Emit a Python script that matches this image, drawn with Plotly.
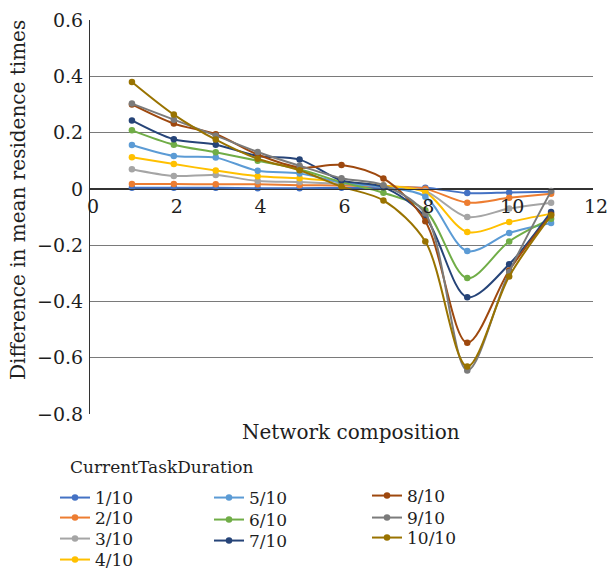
import plotly.graph_objects as go

# Network composition index
composition = [1, 2, 3, 4, 5, 6, 7, 8, 9, 10, 11]

series_names = ["1/10", "2/10", "3/10", "4/10", "5/10",
                "6/10", "7/10", "8/10", "9/10", "10/10"]

d_1 = [0.004, 0.004, 0.004, 0.002, 0.002, 0.004, 0.004, 0.004, -0.015, -0.013, -0.010]
d_2 = [0.017, 0.017, 0.016, 0.016, 0.013, 0.012, 0.008, 0.000, -0.049, -0.032, -0.017]
d_3 = [0.070, 0.046, 0.049, 0.028, 0.024, 0.018, 0.010, -0.008, -0.100, -0.070, -0.049]
d_4 = [0.112, 0.088, 0.065, 0.045, 0.038, 0.025, 0.012, -0.012, -0.153, -0.118, -0.088]
d_5 = [0.156, 0.117, 0.111, 0.064, 0.055, 0.022, 0.006, -0.028, -0.221, -0.157, -0.121]
d_6 = [0.208, 0.157, 0.130, 0.100, 0.070, 0.024, -0.014, -0.076, -0.317, -0.187, -0.106]
d_7 = [0.243, 0.176, 0.157, 0.117, 0.104, 0.030, 0.006, -0.100, -0.385, -0.268, -0.082]
d_8 = [0.300, 0.232, 0.194, 0.122, 0.076, 0.085, 0.037, -0.115, -0.547, -0.290, -0.092]
d_9 = [0.303, 0.246, 0.189, 0.131, 0.082, 0.038, 0.013, -0.088, -0.645, -0.295, -0.008]
d_10 = [0.380, 0.264, 0.175, 0.107, 0.066, 0.008, -0.041, -0.187, -0.631, -0.311, -0.095]

values = [d_1, d_2, d_3, d_4, d_5, d_6, d_7, d_8, d_9, d_10]

colors = ["#4472C4", "#ED7D31", "#A5A5A5", "#FFC000", "#5B9BD5",
          "#70AD47", "#264478", "#9E480E", "#7B7B7B", "#997300"]

FONT = "DejaVu Serif"
TEXT = "#1e1e1e"
W, H = 613, 570
ML, MR, MT, MB = 90, 20, 20, 156
PW, PH = W - ML - MR, H - MT - MB

# legend entry anchor (left, vertical centre) in pixels, one per series
legend_left = [55, 55, 55, 55, 209, 209, 209, 367, 367, 367]
legend_mid = [498, 518, 539, 560, 498, 520, 541, 496, 518, 538]


def px_x(px):
    return (px - ML) / PW


def px_y(py):
    return (H - MB - py) / PH


fig = go.Figure()
legend_layout = {}
for i, (name, ys, col) in enumerate(zip(series_names, values, colors)):
    lg = "legend" if i == 0 else f"legend{i + 1}"
    fig.add_trace(go.Scatter(
        x=composition, y=ys, name=name, mode="lines+markers",
        line=dict(color=col, width=2, shape="spline", smoothing=0.9),
        marker=dict(color=col, size=6.5),
        legend=lg,
    ))
    legend_layout[lg] = dict(
        orientation="v", xref="container", yref="container",
        x=legend_left[i] / W, y=1 - legend_mid[i] / H,
        xanchor="left", yanchor="middle", bgcolor="rgba(0,0,0,0)",
        font=dict(family=FONT, size=17, color=TEXT),
        itemwidth=30, title=dict(text=""),
    )

fig.update_layout(
    width=W, height=H,
    margin=dict(l=ML, r=MR, t=MT, b=MB, autoexpand=False),
    paper_bgcolor="white", plot_bgcolor="white",
    font=dict(family=FONT, size=17, color=TEXT),
    showlegend=True,
    xaxis=dict(
        range=[0, 12], dtick=2, tick0=0,
        anchor="free", position=0.8 / 1.4,
        showline=True, linecolor="#333", linewidth=1,
        showgrid=False, zeroline=False, ticks="",
        ticklabelshift=3,
        tickfont=dict(family=FONT, size=19, color=TEXT),
    ),
    yaxis=dict(
        range=[-0.8, 0.6], dtick=0.2, tick0=0,
        showline=True, linecolor="#333", linewidth=1,
        showgrid=True, gridcolor="#7a7a7a", gridwidth=1,
        zeroline=True, zerolinecolor="#333", zerolinewidth=1,
        ticks="", ticklabelstandoff=2,
        tickfont=dict(family=FONT, size=19, color=TEXT),
    ),
    annotations=[
        dict(text="Network composition", xref="paper", yref="paper",
             x=px_x(351), y=px_y(432), xanchor="center", yanchor="middle",
             showarrow=False, font=dict(family=FONT, size=20, color=TEXT)),
        dict(text="Difference in mean residence times", xref="paper",
             yref="paper", x=px_x(18), y=px_y(200), textangle=-90,
             xanchor="center", yanchor="middle", showarrow=False,
             font=dict(family=FONT, size=20, color=TEXT)),
        dict(text="CurrentTaskDuration", xref="paper", yref="paper",
             x=px_x(68), y=px_y(467), xanchor="left", yanchor="middle",
             showarrow=False, font=dict(family=FONT, size=17, color=TEXT)),
    ],
    **legend_layout,
)

fig.write_html("out.html")
